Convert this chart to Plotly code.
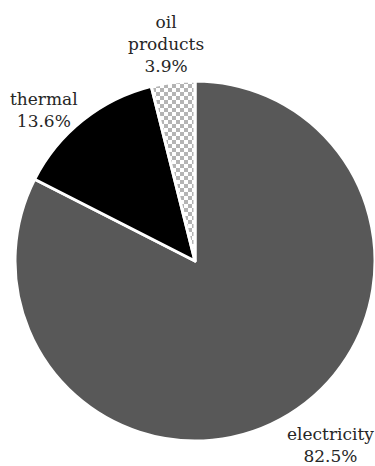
import plotly.graph_objects as go

# Final energy consumption by carrier (%)
carriers = ["electricity", "thermal", "oil products"]
shares = [82.5, 13.6, 3.9]
slice_colors = ["#585858", "#000000", "#b4b4b4"]
slice_patterns = ["", "", "+"]

W, H = 375, 466
FONT = "DejaVu Serif"

# pie placement in pixels (centre and radius)
cx, cy, r = 195, 261, 180

# label anchor points in pixels, one per carrier
label_xy = [(330, 445), (44, 110), (166, 44)]

fig = go.Figure(
    go.Pie(
        labels=carriers,
        values=shares,
        sort=False,
        direction="clockwise",
        rotation=0,
        textinfo="none",
        hoverinfo="label+percent",
        marker=dict(
            colors=slice_colors,
            line=dict(color="#ffffff", width=3),
            pattern=dict(
                shape=slice_patterns,
                fgcolor="#b4b4b4",
                bgcolor="#ffffff",
                size=8,
                solidity=0.5,
            ),
        ),
        domain=dict(
            x=[(cx - r) / W, min(1.0, (cx + r) / W)],
            y=[(H - cy - r) / H, (H - cy + r) / H],
        ),
    )
)

for name, share, (px, py) in zip(carriers, shares, label_xy):
    fig.add_annotation(
        x=px / W,
        y=1 - py / H,
        xref="paper",
        yref="paper",
        xanchor="center",
        yanchor="middle",
        text=f"{name.replace(' ', '<br>')}<br>{share}%",
        showarrow=False,
        align="center",
        font=dict(family=FONT, size=17, color="#262626"),
    )

fig.update_layout(
    width=W,
    height=H,
    margin=dict(l=0, r=0, t=0, b=0),
    paper_bgcolor="#ffffff",
    plot_bgcolor="#ffffff",
    showlegend=False,
    font=dict(family=FONT),
)

# swap the cross-hatch fill for a checkerboard tile
checker_js = """
var gd = document.getElementById('{plot_id}');
function checker() {
  var NS = 'http://www.w3.org/2000/svg';
  var s = 8, h = s / 2, grey = '#b4b4b4';
  gd.querySelectorAll('pattern').forEach(function (p) {
    p.setAttribute('width', s);
    p.setAttribute('height', s);
    p.setAttribute('patternUnits', 'userSpaceOnUse');
    while (p.firstChild) p.removeChild(p.firstChild);
    [[0, 0, s, s, '#ffffff'], [0, 0, h, h, grey], [h, h, h, h, grey]].forEach(function (c) {
      var e = document.createElementNS(NS, 'rect');
      e.setAttribute('x', c[0]);
      e.setAttribute('y', c[1]);
      e.setAttribute('width', c[2]);
      e.setAttribute('height', c[3]);
      e.setAttribute('fill', c[4]);
      p.appendChild(e);
    });
  });
}
checker();
gd.on('plotly_afterplot', checker);
"""

fig.write_html("out.html", post_script=checker_js, config={"displayModeBar": False})
